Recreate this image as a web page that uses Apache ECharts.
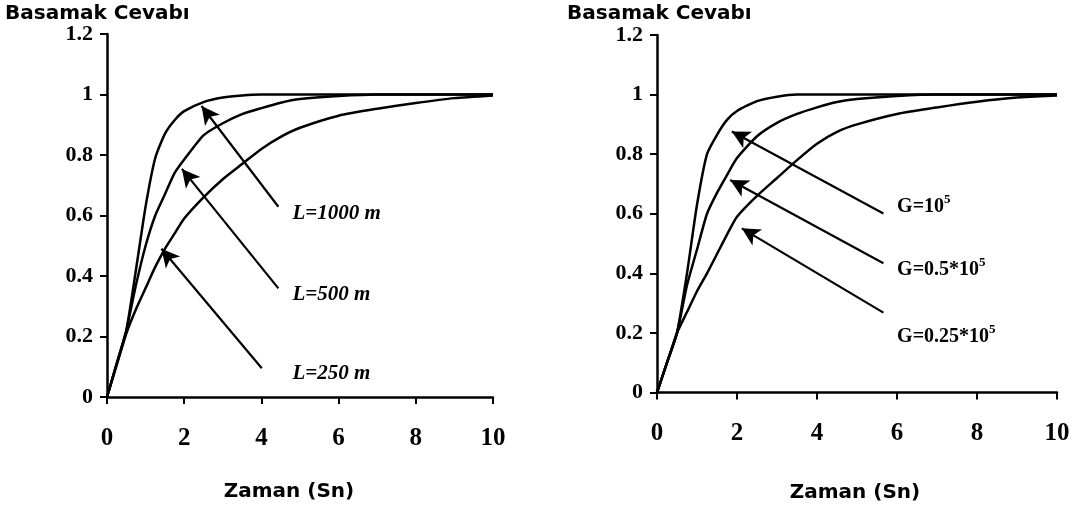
<!DOCTYPE html>
<html>
<head>
<meta charset="utf-8">
<script src="https://cdn.jsdelivr.net/npm/echarts@6/dist/echarts.min.js"></script>
<style>
html, body { margin: 0; background: #fff; }
#main { width: 1075px; height: 507px; }
</style>
</head>
<body>
<div id="main"></div>
<script>
// zaman ekseni (sn) - tum egriler icin ortak
var zaman = [0, 0.25, 0.5, 0.75, 1, 1.25, 1.5, 1.75, 2, 2.5, 3, 3.5, 4, 4.5, 5, 6, 7, 8, 9, 10];

// sol grafik: hat uzunlugu L
var yL1000 = [0, 0.11, 0.22, 0.42, 0.63, 0.79, 0.87, 0.915, 0.945, 0.975, 0.99, 0.997, 1, 1, 1, 1, 1, 1, 1, 1];
var yL500  = [0, 0.11, 0.22, 0.37, 0.50, 0.60, 0.67, 0.74, 0.785, 0.865, 0.905, 0.935, 0.955, 0.973, 0.985, 0.995, 1, 1, 1, 1];
var yL250  = [0, 0.105, 0.21, 0.29, 0.36, 0.43, 0.49, 0.54, 0.59, 0.66, 0.72, 0.77, 0.82, 0.86, 0.89, 0.93, 0.953, 0.972, 0.988, 0.997];

// sag grafik: kazanc G
var yG1   = [0, 0.10, 0.20, 0.40, 0.63, 0.80, 0.865, 0.915, 0.945, 0.978, 0.993, 1, 1, 1, 1, 1, 1, 1, 1, 1];
var yG05  = [0, 0.10, 0.20, 0.36, 0.48, 0.60, 0.67, 0.73, 0.787, 0.86, 0.905, 0.935, 0.957, 0.975, 0.985, 0.995, 1, 1, 1, 1];
var yG025 = [0, 0.10, 0.20, 0.27, 0.34, 0.40, 0.465, 0.53, 0.59, 0.66, 0.72, 0.78, 0.835, 0.875, 0.90, 0.935, 0.957, 0.976, 0.99, 0.997];

var xTicks = [0, 2, 4, 6, 8, 10];
var yTicks = [0, 0.2, 0.4, 0.6, 0.8, 1, 1.2];

// oklar: [kuyruk, uc] veri koordinatlarinda
var oklarL = [[[4.44, 0.629], [2.45, 0.962]], [[4.44, 0.359], [1.94, 0.754]], [[4.01, 0.095], [1.41, 0.49]]];
var oklarG = [[[5.66, 0.601], [1.87, 0.876]], [[5.66, 0.434], [1.83, 0.713]], [[5.66, 0.268], [2.12, 0.551]]];
var etiketL = [['L=1000 m', 4.79, 0.608], ['L=500 m', 4.79, 0.337], ['L=250 m', 4.79, 0.078]];
var etiketG = [['G=10{s|5}', 5.99, 0.623], ['G=0.5*10{s|5}', 5.99, 0.411], ['G=0.25*10{s|5}', 5.99, 0.187]];

function pairs(ys) {
    return zaman.map(function (t, i) { return [t, ys[i]]; });
}

function xAxisOpt(idx, margin) {
    return {
        type: 'value', gridIndex: idx, min: 0, max: 10, interval: 2,
        axisLine: { onZero: false, lineStyle: { color: '#000', width: 2.5 } },
        axisTick: { inside: false, length: 7, lineStyle: { color: '#000', width: 2 } },
        splitLine: { show: false },
        axisLabel: {
            margin: margin, color: '#000', fontFamily: 'Liberation Serif', fontWeight: 'bold', fontSize: 25,
            formatter: function (v) { return xTicks.indexOf(v) >= 0 ? String(v) : ''; }
        }
    };
}

function yAxisOpt(idx) {
    return {
        type: 'value', gridIndex: idx, min: 0, max: 1.2, interval: 0.2,
        axisLine: { show: true, onZero: false, lineStyle: { color: '#000', width: 2.5 } },
        axisTick: { show: true, inside: false, length: 7, lineStyle: { color: '#000', width: 2 } },
        splitLine: { show: false },
        axisLabel: {
            margin: 14, color: '#000', fontFamily: 'Liberation Serif', fontWeight: 'bold', fontSize: 22,
            formatter: function (v) { return String(Math.round(v * 10) / 10); }
        }
    };
}

function curve(idx, ys, oklar, etiket, italic) {
    var s = {
        type: 'line', xAxisIndex: idx, yAxisIndex: idx,
        data: pairs(ys), showSymbol: false, smooth: 0.2,
        lineStyle: { color: '#000', width: 2.5 }, silent: true
    };
    if (oklar) {
        s.markLine = {
            silent: true, symbol: ['none', 'arrow'], symbolSize: [14, 18],
            label: { show: false },
            lineStyle: { color: '#000', width: 2.2, type: 'solid' },
            data: oklar.map(function (o) { return [{ coord: o[0] }, { coord: o[1] }]; })
        };
        s.markPoint = {
            silent: true, symbol: 'circle', symbolSize: 1,
            itemStyle: { color: 'transparent' },
            label: {
                show: true, position: 'right', distance: 0, color: '#000',
                fontFamily: 'Liberation Serif', fontWeight: 'bold',
                fontStyle: italic ? 'italic' : 'normal', fontSize: italic ? 21 : 20,
                rich: { s: { fontFamily: 'Liberation Serif', fontWeight: 'bold', fontSize: 13, padding: [0, 0, 14, 0], color: '#000' } }
            },
            data: etiket.map(function (e) {
                return { coord: [e[1], e[2]], label: { formatter: e[0] } };
            })
        };
    }
    return s;
}

var baslikFont = 'bold 20px "DejaVu Sans"';

var option = {
    animation: false,
    backgroundColor: '#fff',
    grid: [
        { left: 107, right: 582, top: 34, bottom: 110 },
        { left: 657, right: 18, top: 35, bottom: 114.5 }
    ],
    xAxis: [xAxisOpt(0, 29), xAxisOpt(1, 29)],
    yAxis: [yAxisOpt(0), yAxisOpt(1)],
    graphic: [
        { type: 'text', left: 5, top: 4, style: { text: 'Basamak Cevabı', font: baslikFont, fill: '#000' } },
        { type: 'text', left: 567, top: 4, style: { text: 'Basamak Cevabı', font: baslikFont, fill: '#000' } },
        { type: 'text', x: 289, y: 492, style: { text: 'Zaman (Sn)', font: baslikFont, fill: '#000', align: 'center', verticalAlign: 'middle' } },
        { type: 'text', x: 855, y: 493, style: { text: 'Zaman (Sn)', font: baslikFont, fill: '#000', align: 'center', verticalAlign: 'middle' } }
    ],
    series: [
        curve(0, yL1000, oklarL, etiketL, true),
        curve(0, yL500),
        curve(0, yL250),
        curve(1, yG1, oklarG, etiketG, false),
        curve(1, yG05),
        curve(1, yG025)
    ]
};

var myChart = echarts.init(document.getElementById('main'));
myChart.setOption(option);
</script>
</body>
</html>
